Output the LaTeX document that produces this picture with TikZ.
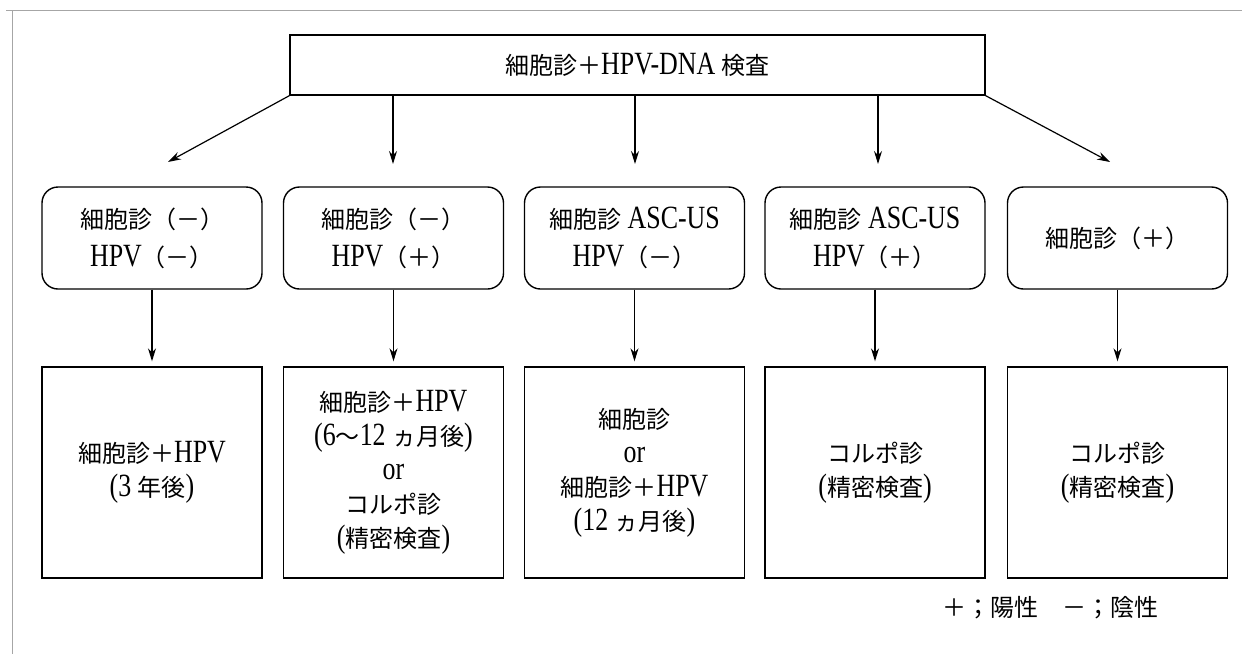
\documentclass[tikz,border=0pt]{standalone}
\usepackage{fontspec}
\setmainfont{Liberation Serif}[Scale=1.35,FakeStretch=0.8]
\newfontfamily\jp{Noto Sans CJK JP}
\usetikzlibrary{arrows.meta}
\tikzset{
  every node/.style={font=\fontsize{24}{34}\selectfont, inner sep=0pt, align=center},
  topbox/.style={draw, line width=1.4pt, minimum width=695pt, minimum height=60pt},
  midbox/.style={draw, line width=1.4pt, rounded corners=16pt, minimum width=220pt, minimum height=102pt, font=\fontsize{24}{38}\selectfont},
  botbox/.style={draw, line width=1.4pt, minimum width=220pt, minimum height=211pt},
  arr/.style={line width=1.2pt, -{Stealth[length=13pt,width=8pt]}},
  frameline/.style={draw=gray!70, line width=0.8pt}
}
\begin{document}
\begin{tikzpicture}[x=1pt,y=-1pt]
\useasboundingbox (0,0) rectangle (1242,654);
\draw[frameline] (6,10) -- (1242,10);
\draw[frameline] (12,10) -- (12,654);

\node[topbox] (top) at (637.5,65) {{\jp 細胞診＋}HPV-DNA {\jp 検査}};

\node[midbox] (m1) at (152,238) {{\jp 細胞診（－）}\\HPV{\jp （－）}};
\node[midbox] (m2) at (393.5,238) {{\jp 細胞診（－）}\\HPV{\jp （＋）}};
\node[midbox] (m3) at (634.5,238) {{\jp 細胞診} ASC-US\\HPV{\jp （－）}};
\node[midbox] (m4) at (875,238) {{\jp 細胞診} ASC-US\\HPV{\jp （＋）}};
\node[midbox] (m5) at (1117.5,238) {{\jp 細胞診（＋）}};

\node[botbox] (b1) at (152,472.5) {{\jp 細胞診＋}HPV\\(3 {\jp 年後})};
\node[botbox] (b2) at (393.5,472.5) {{\jp 細胞診＋}HPV\\(6{\jp ～}12 {\jp ヵ月後})\\or\\{\jp コルポ診}\\({\jp 精密検査})};
\node[botbox] (b3) at (634.5,472.5) {{\jp 細胞診}\\or\\{\jp 細胞診＋}HPV\\(12 {\jp ヵ月後})};
\node[botbox] (b4) at (875,472.5) {{\jp コルポ診}\\({\jp 精密検査})};
\node[botbox] (b5) at (1117.5,472.5) {{\jp コルポ診}\\({\jp 精密検査})};

\node (legend) at (1050,608) {{\jp ＋；陽性　－；陰性}};

\coordinate (e1) at (168,162);
\coordinate (e2) at (393,164);
\coordinate (e3) at (635,164);
\coordinate (e4) at (878,164);
\coordinate (e5) at (1110,162);
\draw[arr] (top.south west) -- (e1);
\draw[arr] (top.south -| e2) -- (e2);
\draw[arr] (top.south -| e3) -- (e3);
\draw[arr] (top.south -| e4) -- (e4);
\draw[arr] (top.south east) -- (e5);

\foreach \i in {1,...,5}{
  \draw[arr, shorten >=5pt] (m\i.south) -- (b\i.north);
}
\end{tikzpicture}
\end{document}
